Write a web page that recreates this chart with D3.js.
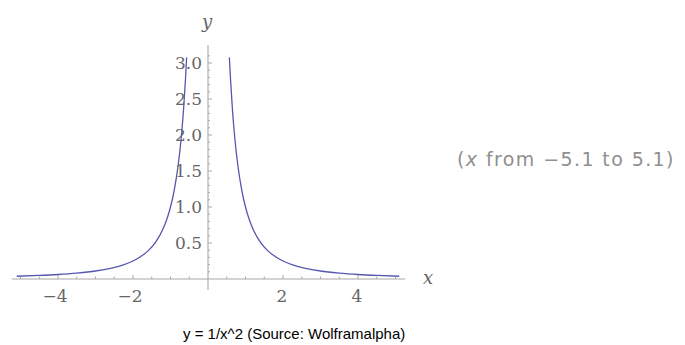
<!DOCTYPE html>
<html>
<head>
<meta charset="utf-8">
<script src="https://cdn.jsdelivr.net/npm/d3@7"></script>
<style>
  html, body { margin: 0; padding: 0; background: #fff; }
  svg { display: block; }
</style>
</head>
<body>
<svg id="chart" width="685" height="345"></svg>
<script>
const xRight = [0.57, 0.6, 0.65, 0.7, 0.75, 0.8, 0.9, 1.0, 1.1, 1.2, 1.4, 1.6, 1.8, 2.0, 2.3, 2.6, 3.0, 3.5, 4.0, 4.5, 5.1];
const yRight = [3.078, 2.778, 2.367, 2.041, 1.778, 1.5625, 1.235, 1.0, 0.826, 0.694, 0.510, 0.391, 0.309, 0.25, 0.189, 0.148, 0.111, 0.082, 0.0625, 0.049, 0.038];
const xLeft = [-5.1, -4.5, -4.0, -3.5, -3.0, -2.6, -2.3, -2.0, -1.8, -1.6, -1.4, -1.2, -1.1, -1.0, -0.9, -0.8, -0.75, -0.7, -0.65, -0.6, -0.57];
const yLeft = [0.038, 0.049, 0.0625, 0.082, 0.111, 0.148, 0.189, 0.25, 0.309, 0.391, 0.510, 0.694, 0.826, 1.0, 1.235, 1.5625, 1.778, 2.041, 2.367, 2.778, 3.078];

const xDomain = [-5.1, 5.1];
const yDomain = [0, 3.0];
const xTickLabels = [-4, -2, 2, 4];
const yTickLabels = [0.5, 1.0, 1.5, 2.0, 2.5, 3.0];
const xMinorTicks = d3.range(-5, 5.01, 0.5).filter(v => Math.abs(v) > 1e-9);
const yMinorTicks = d3.range(1, 32, 1).map(i => i / 10);

const xLabel = "x";
const yLabel = "y";
const noteText = ["(", "x", " from \u22125.1 to 5.1)"];
const caption = "y = 1/x^2 (Source: Wolframalpha)";

const svg = d3.select("#chart");

const x = d3.scaleLinear().domain(xDomain).range([16.75, 399.25]);
const y = d3.scaleLinear().domain(yDomain).range([279, 63]);

const axisColor = "#a8a8a8";
const labelColor = "#666";
const tickFont = "'DejaVu Serif', serif";

// x axis line
svg.append("line")
  .attr("x1", x(xDomain[0]) - 5).attr("x2", x(xDomain[1]) + 6)
  .attr("y1", y(0)).attr("y2", y(0))
  .attr("stroke", axisColor).attr("stroke-width", 1.1);

// y axis line
svg.append("line")
  .attr("x1", x(0)).attr("x2", x(0))
  .attr("y1", y(0) + 11).attr("y2", y(3.0) - 18)
  .attr("stroke", axisColor).attr("stroke-width", 1.1);

// x ticks (minor and major)
svg.append("g").selectAll("line").data(xMinorTicks).join("line")
  .attr("x1", d => x(d)).attr("x2", d => x(d))
  .attr("y1", y(0)).attr("y2", d => y(0) - (Math.abs(d % 2) < 1e-9 ? 4 : 2.5))
  .attr("stroke", axisColor).attr("stroke-width", 1);

// y ticks (minor and major)
svg.append("g").selectAll("line").data(yMinorTicks).join("line")
  .attr("x1", x(0)).attr("x2", (d, i) => x(0) + ((i + 1) % 5 === 0 ? 4 : 2))
  .attr("y1", d => y(d)).attr("y2", d => y(d))
  .attr("stroke", axisColor).attr("stroke-width", 1);

// curve
const line = d3.line().x(d => x(d[0])).y(d => y(d[1])).curve(d3.curveMonotoneX);
const curveColor = "#5656b0";
svg.append("path")
  .datum(d3.zip(xLeft, yLeft))
  .attr("d", line)
  .attr("fill", "none").attr("stroke", curveColor).attr("stroke-width", 1.3);
svg.append("path")
  .datum(d3.zip(xRight, yRight))
  .attr("d", line)
  .attr("fill", "none").attr("stroke", curveColor).attr("stroke-width", 1.3);

// x tick labels
svg.append("g").selectAll("text").data(xTickLabels).join("text")
  .attr("x", d => x(d) - (d < 0 ? 3 : 1)).attr("y", y(0) + 23)
  .attr("text-anchor", "middle")
  .attr("font-family", tickFont).attr("font-size", 17)
  .attr("fill", labelColor)
  .text(d => d < 0 ? "\u2212" + Math.abs(d) : d);

// y tick labels
svg.append("g").selectAll("text").data(yTickLabels).join("text")
  .attr("x", x(0) - 6).attr("y", d => y(d) + 6)
  .attr("text-anchor", "end")
  .attr("font-family", tickFont).attr("font-size", 17)
  .attr("fill", labelColor)
  .text(d => d.toFixed(1));

// axis labels
svg.append("text")
  .attr("x", x(0) - 1).attr("y", 28)
  .attr("text-anchor", "middle")
  .attr("font-family", tickFont).attr("font-style", "italic").attr("font-size", 18)
  .attr("fill", labelColor)
  .text(yLabel);
svg.append("text")
  .attr("x", 428).attr("y", y(0) + 5)
  .attr("text-anchor", "middle")
  .attr("font-family", tickFont).attr("font-style", "italic").attr("font-size", 18)
  .attr("fill", labelColor)
  .text(xLabel);

// note
const note = svg.append("text")
  .attr("x", 457).attr("y", 166)
  .attr("font-family", "'DejaVu Sans', sans-serif").attr("font-size", 19)
  .attr("letter-spacing", 1.4)
  .attr("fill", "#8f8f8f");
note.append("tspan").text(noteText[0]);
note.append("tspan").attr("font-style", "italic").text(noteText[1]);
note.append("tspan").text(noteText[2]);

// caption
svg.append("text")
  .attr("x", 183).attr("y", 339)
  .attr("font-family", "'Liberation Sans', Arial, sans-serif").attr("font-size", 15)
  .attr("fill", "#000")
  .text(caption);
</script>
</body>
</html>
